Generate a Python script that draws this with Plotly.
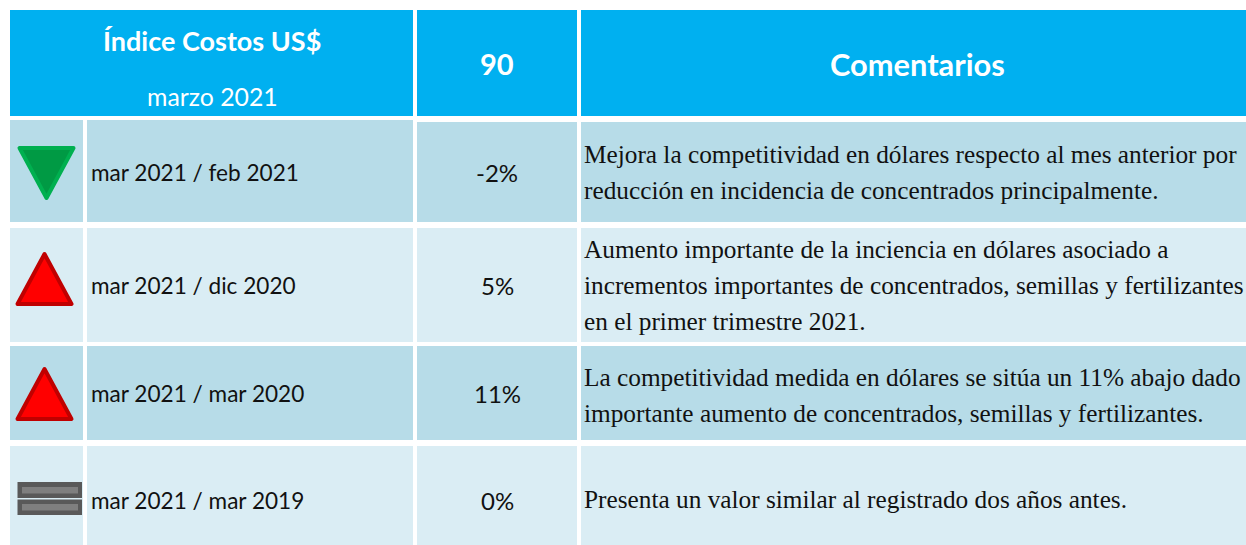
import plotly.graph_objects as go

# ---------- data ----------
header_title = "Índice Costos US$"
header_period = "marzo 2021"
header_value = "90"
header_comments = "Comentarios"
periods = ["mar 2021 / feb 2021", "mar 2021 / dic 2020", "mar 2021 / mar 2020", "mar 2021 / mar 2019"]
values = ["-2%", "5%", "11%", "0%"]
trends = ["down", "up", "up", "flat"]
comments = [
    ["Mejora la competitividad en dólares respecto al mes anterior por",
     "reducción en incidencia de concentrados principalmente."],
    ["Aumento importante de la inciencia en dólares asociado a",
     "incrementos importantes de concentrados, semillas y fertilizantes",
     "en el primer trimestre 2021."],
    ["La competitividad medida en dólares se sitúa un 11% abajo dado",
     "importante aumento de concentrados, semillas y fertilizantes."],
    ["Presenta un valor similar al registrado dos años antes."],
]

# ---------- layout ----------
W, H = 1246, 545
HEAD = "#00B0F0"
BAND = ["#B7DCE8", "#DAEDF4"]
row_tops = [120, 228, 346, 446]
row_bots = [222, 342, 440, 545]
row_mid = [172, 285, 393, 500]
com_mid = [172, 285, 395, 499]
icon_mid = {0: 173, 1: 279, 2: 394}
icon_x = (10, 83)
label_x = (87, 413)
val_x = (417, 577)
com_x = (581, 1246)
SANS = "Lato"
SERIF = "Liberation Serif"

shapes, ann = [], []

def rect(x0, x1, y0, y1, color):
    shapes.append(dict(type="rect", xref="x", yref="y", x0=x0, x1=x1, y0=y0, y1=y1,
                       fillcolor=color, line=dict(color=color, width=0), layer="below"))

def text(x, y, s, size, color="#111111", family=SANS, anchor="center", bold=False):
    if bold:
        s = f"<b>{s}</b>"
    ann.append(dict(x=x, y=y, xref="x", yref="y", text=s, showarrow=False, xanchor=anchor, yanchor="middle",
                    font=dict(family=family, size=size, color=color), align=anchor, borderpad=0))

# header
rect(10, 413, 10, 116, HEAD)
rect(417, 577, 10, 116, HEAD)
rect(581, 1246, 10, 116, HEAD)
text(211.5, 40, header_title, 27, "white", bold=True)
text(212.5, 96, header_period, 24.8, "white")
text(497, 63, header_value, 29, "white", bold=True)
text(917, 64, header_comments, 30.8, "white", bold=True)

ICON = {
    "up": dict(pts=[(0, -25), (27, 25), (-27, 25)], fill="#FF0000", line="#C00000", cx=44.5),
    "down": dict(pts=[(-27, -25), (27, -25), (0, 25)], fill="#009A44", line="#00B050", cx=46.5),
}

for i, (t, b) in enumerate(zip(row_tops, row_bots)):
    c = BAND[i % 2]
    rect(*icon_x, t, b, c)
    rect(*label_x, t, b, c)
    rect(*val_x, t + 2 if i == 0 else t, b, c)
    rect(*com_x, t + 2 if i == 0 else t, b, c)
    text(89.5, row_mid[i], periods[i], 22.6, anchor="left")
    text(497, row_mid[i], values[i], 24)
    lines = comments[i]
    n = len(lines)
    for j, ln in enumerate(lines):
        text(582.5, com_mid[i] + (j - (n - 1) / 2) * 36, ln, 25.3, family=SERIF, anchor="left")

    tr = trends[i]
    if tr in ICON:
        ic = ICON[tr]
        cx, cy = ic["cx"], icon_mid[i]
        path = "M" + " L".join(f"{cx + dx},{cy + dy}" for dx, dy in ic["pts"]) + " Z"
        shapes.append(dict(type="path", xref="x", yref="y", path=path, fillcolor=ic["fill"],
                           line=dict(color=ic["line"], width=4), layer="above"))
    else:
        rect(17.5, 82, 482, 498, "#595959")
        rect(22, 78, 487, 493.5, "#7F7F7F")
        rect(17.5, 82, 499.5, 515, "#595959")
        rect(22, 78, 504, 510.5, "#7F7F7F")

fig = go.Figure()
fig.add_trace(go.Scatter(x=[0, W], y=[0, H], mode="markers", marker=dict(opacity=0), hoverinfo="skip", showlegend=False))
fig.update_layout(
    width=W, height=H, margin=dict(l=0, r=0, t=0, b=0),
    paper_bgcolor="white", plot_bgcolor="white", showlegend=False,
    xaxis=dict(range=[0, W], visible=False, fixedrange=True),
    yaxis=dict(range=[H, 0], visible=False, fixedrange=True),
    shapes=shapes, annotations=ann,
)
fig.write_html("out.html", config={"displayModeBar": False},
               post_script="document.body.style.margin='0';document.body.style.overflow='hidden';"
                           "document.querySelectorAll('.shapelayer path').forEach(p=>{p.style.strokeLinejoin='round';p.style.strokeMiterlimit='10';});")
